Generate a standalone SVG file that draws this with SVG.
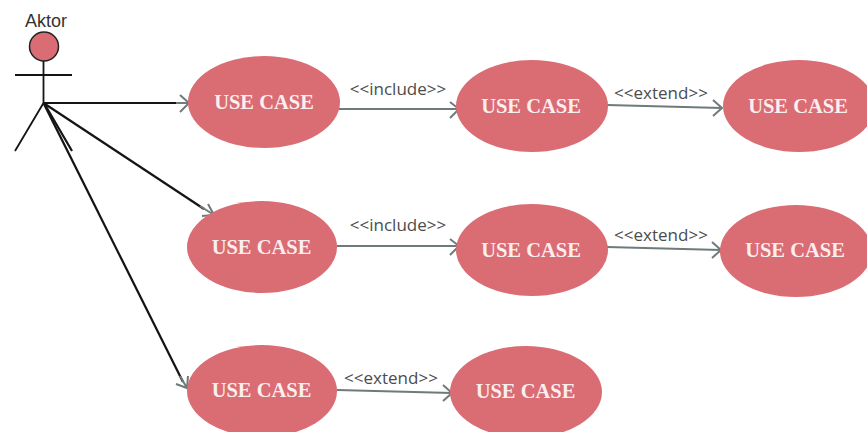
<svg xmlns="http://www.w3.org/2000/svg" width="867" height="432" viewBox="0 0 867 432">
<style>
.uc{fill:#da6c74}
.ut{font-family:"Liberation Serif","Times New Roman",serif;font-size:20.500px;font-weight:bold;fill:#fbeeee;text-anchor:middle}
.lb{font-family:"Open Sans","Noto Sans",sans-serif;font-size:17px;fill:#4c4c4c;text-anchor:middle}
.c{fill:none;stroke:#6f7a7a;stroke-width:2}
.a{fill:none;stroke:#151515;stroke-width:2.200}
.h{fill:none;stroke:#6f7a7a;stroke-width:2}
</style>
<rect width="867" height="432" fill="#fff"/>
<g id="actor">
<text x="46" y="27" font-family="Liberation Sans,Arial,sans-serif" font-size="18" fill="#333" text-anchor="middle">Aktor</text>
<circle cx="44" cy="46.500" r="14.500" fill="#da6c74" stroke="#222" stroke-width="1.500"/>
<path d="M43.500 61V103M15 75H72M43.500 103L15 151" fill="none" stroke="#151515" stroke-width="1.800"/>
</g>
<g id="connectors">
<path class="a" d="M43.500 103H178"/><path class="h" d="M176 103H189M180 95L189 103L180 112"/>
<path class="a" d="M43.500 103L204 209"/><path class="h" d="M200 206L214 215M202 216L214 215L208 204"/>
<path class="a" d="M43.500 103L183 382"/><path class="h" d="M180 376L187 388M176 384L187 388L188 376"/>
<path class="a" d="M44 103L72 151"/>
<path class="c" d="M339 109H458M450 102L459 109L450 118"/>
<path class="c" d="M607 105L722 108M713 100L722 108L713 116"/>
<path class="c" d="M337 246H458M450 239L459 246L450 255"/>
<path class="c" d="M607 247L721 250M712 242L721 250L712 258"/>
<path class="c" d="M337 390L452 393M443 385L452 393L443 401"/>
</g>
<g>
<text class="lb" x="398" y="95">&lt;&lt;include&gt;&gt;</text>
<text class="lb" x="661" y="99">&lt;&lt;extend&gt;&gt;</text>
<text class="lb" x="398" y="231">&lt;&lt;include&gt;&gt;</text>
<text class="lb" x="661" y="241">&lt;&lt;extend&gt;&gt;</text>
<text class="lb" x="391" y="384">&lt;&lt;extend&gt;&gt;</text>
</g>
<g id="uc1"><ellipse class="uc" cx="264" cy="102" rx="76" ry="46"/><text class="ut" x="264" y="108.500">USE CASE</text></g>
<g id="uc2"><ellipse class="uc" cx="532" cy="106" rx="76" ry="46"/><text class="ut" x="531" y="112.500">USE CASE</text></g>
<g id="uc3"><ellipse class="uc" cx="799" cy="106" rx="76" ry="46"/><text class="ut" x="798" y="112.500">USE CASE</text></g>
<g id="uc4"><ellipse class="uc" cx="262" cy="247" rx="75" ry="46"/><text class="ut" x="261.500" y="253.500">USE CASE</text></g>
<g id="uc5"><ellipse class="uc" cx="532" cy="250" rx="76" ry="46"/><text class="ut" x="531" y="256.500">USE CASE</text></g>
<g id="uc6"><ellipse class="uc" cx="796" cy="251" rx="76" ry="46"/><text class="ut" x="795" y="256.500">USE CASE</text></g>
<g id="uc7"><ellipse class="uc" cx="262" cy="391" rx="75" ry="46"/><text class="ut" x="261.500" y="396.500">USE CASE</text></g>
<g id="uc8"><ellipse class="uc" cx="526" cy="392" rx="76" ry="46"/><text class="ut" x="525.500" y="397.500">USE CASE</text></g>
</svg>
